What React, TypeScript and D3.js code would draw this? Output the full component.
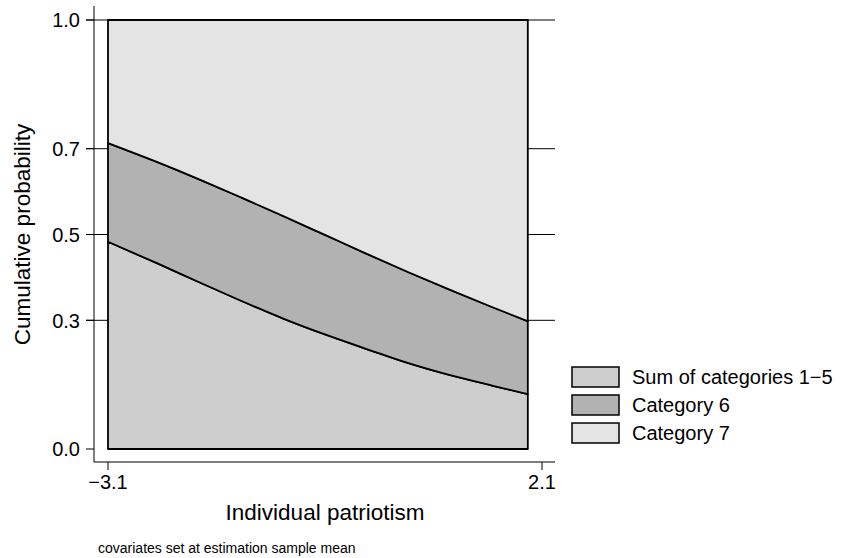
import * as d3 from "d3";
import React from "react";

const width = 842;
const height = 558;

// patriotism values where the curves were read
const xVals = [-3.1, -2.5, -2, -1.5, -1, -0.5, 0, 0.5, 1, 1.5, 1.93];
// cumulative probability, sum of categories 1-5
const lowerVals = [0.483, 0.432, 0.388, 0.345, 0.304, 0.267, 0.233, 0.2, 0.172, 0.148, 0.128];
// cumulative probability, categories 1-6
const upperVals = [0.713, 0.668, 0.628, 0.586, 0.543, 0.499, 0.455, 0.412, 0.371, 0.331, 0.298];

const yTicks = [0, 0.3, 0.5, 0.7, 1.0];
const gridTicks = [0.3, 0.5, 0.7, 1.0];
const xTicks = [-3.1, 2.1];

const legendLabels = ["Sum of categories 1\u22125", "Category 6", "Category 7"];
const fills = ["#cecece", "#b2b2b2", "#e4e4e4"];

const font = "'Liberation Sans', Arial, Helvetica, sans-serif";

export default function App() {
  const x = d3.scaleLinear().domain([-3.1, 2.1]).range([108, 542]);
  const y = d3.scaleLinear().domain([0, 1]).range([449, 20]);

  const pts = xVals.map((v, i) => ({ x: v, lo: lowerVals[i], hi: upperVals[i] }));
  type P = (typeof pts)[number];

  const curve = d3.curveMonotoneX;
  const areaSum = d3.area<P>().x((d) => x(d.x)).y0(y(0)).y1((d) => y(d.lo)).curve(curve);
  const area6 = d3.area<P>().x((d) => x(d.x)).y0((d) => y(d.lo)).y1((d) => y(d.hi)).curve(curve);
  const area7 = d3.area<P>().x((d) => x(d.x)).y0((d) => y(d.hi)).y1(y(1)).curve(curve);

  const axisLeft = 94;
  const axisBottom = 462;
  const axisRight = 555;
  const fmt = (v: number) => v.toFixed(1).replace("-", "\u2212");

  return (
    <svg
      width={width}
      height={height}
      style={{ position: "absolute", left: 0, top: 0, background: "#fff" }}
      fontFamily={font}
    >
      {/* grid lines behind the areas */}
      <g stroke="#000" strokeWidth={1}>
        {gridTicks.map((t) => (
          <line key={t} x1={86} x2={axisRight} y1={y(t)} y2={y(t)} />
        ))}
      </g>

      <g stroke="#000" strokeWidth={1.8} strokeLinejoin="round">
        <path d={areaSum(pts) || ""} fill={fills[0]} />
        <path d={area6(pts) || ""} fill={fills[1]} />
        <path d={area7(pts) || ""} fill={fills[2]} />
      </g>

      {/* axes */}
      <g stroke="#000" strokeWidth={1}>
        <line x1={axisLeft} x2={axisLeft} y1={6} y2={axisBottom} />
        <line x1={axisLeft} x2={axisRight} y1={axisBottom} y2={axisBottom} />
        {yTicks.map((t) => (
          <line key={t} x1={86} x2={axisLeft} y1={y(t)} y2={y(t)} />
        ))}
        {xTicks.map((t) => (
          <line key={t} x1={x(t)} x2={x(t)} y1={axisBottom} y2={470} />
        ))}
      </g>

      <g fontSize={20} fill="#000">
        {yTicks.map((t) => (
          <text key={t} x={80} y={y(t)} dy="0.36em" textAnchor="end">
            {fmt(t)}
          </text>
        ))}
        {xTicks.map((t) => (
          <text key={t} x={x(t)} y={489} textAnchor="middle">
            {fmt(t)}
          </text>
        ))}
      </g>

      <text x={325} y={520} textAnchor="middle" fontSize={22.5}>
        Individual patriotism
      </text>
      <text
        transform={`translate(30,${y(0.5)}) rotate(-90)`}
        textAnchor="middle"
        fontSize={22.5}
      >
        Cumulative probability
      </text>
      <text x={98} y={553} fontSize={14}>
        covariates set at estimation sample mean
      </text>

      {/* legend */}
      <g>
        {legendLabels.map((l, i) => (
          <g key={l} transform={`translate(572,${367 + i * 28})`}>
            <rect width={47} height={20} fill={fills[i]} stroke="#000" strokeWidth={1.5} />
            <text x={60} y={10} dy="0.36em" fontSize={20}>
              {l}
            </text>
          </g>
        ))}
      </g>
    </svg>
  );
}
